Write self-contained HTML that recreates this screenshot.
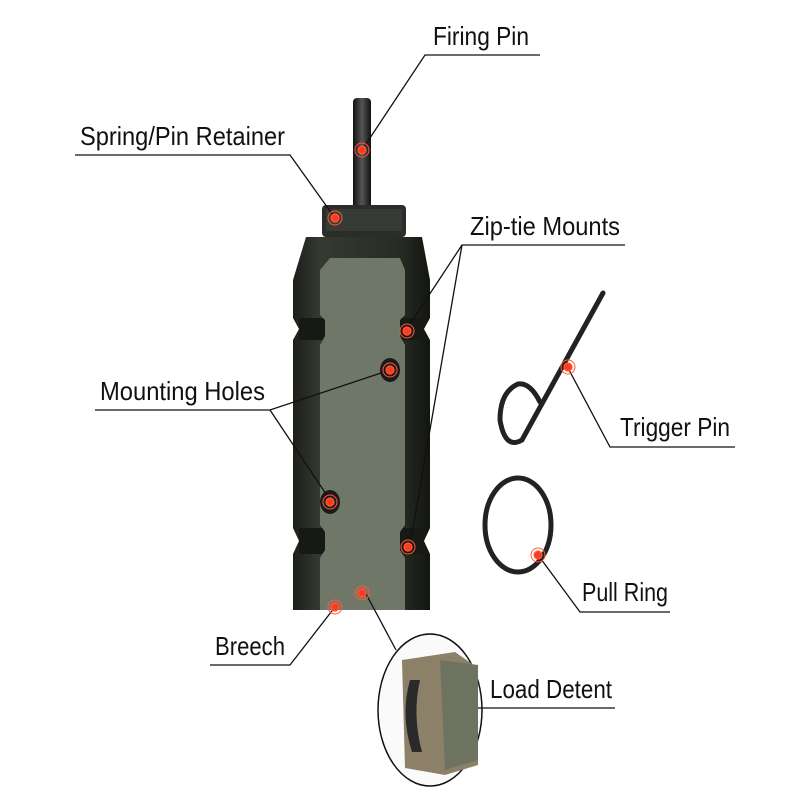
<!DOCTYPE html>
<html><head><style>
body{margin:0;background:#fff;}
svg{display:block}
text{font-family:"Liberation Sans",sans-serif;font-size:26px;fill:#111}
</style></head><body>
<svg width="800" height="800" viewBox="0 0 800 800">
<defs>
<linearGradient id="bd" x1="0" x2="1"><stop offset="0" stop-color="#1c1f1a"/><stop offset="0.2" stop-color="#353a31"/><stop offset="0.8" stop-color="#262a23"/><stop offset="1" stop-color="#131511"/></linearGradient>
<linearGradient id="pin" x1="0" x2="1"><stop offset="0" stop-color="#111"/><stop offset="0.5" stop-color="#555"/><stop offset="1" stop-color="#111"/></linearGradient>
</defs>
<rect x="353" y="98" width="18" height="112" rx="4" fill="url(#pin)"/>
<rect x="322" y="205" width="84" height="32" rx="4" fill="#2b2e28"/>
<rect x="326" y="209" width="76" height="22" fill="#3d423a" opacity="0.7"/>
<path d="M306 237 L422 237 L430 280 L430 318 L424 329 L430 340 L430 528 L424 541 L430 554 L430 610 L293 610 L293 554 L299 541 L293 528 L293 340 L299 329 L293 318 L293 280 Z" fill="url(#bd)"/>
<rect x="299" y="318" width="125" height="22" fill="#171915"/>
<rect x="299" y="528" width="125" height="26" fill="#171915"/>
<path d="M330 258 L400 258 L405 270 L405 315 L400 320 L400 336 L405 345 L405 525 L400 532 L400 550 L405 558 L405 610 L320 610 L320 558 L325 550 L325 532 L320 525 L320 345 L325 336 L325 320 L320 315 L320 270 Z" fill="#6f7768"/>
<ellipse cx="390" cy="370" rx="10" ry="12" fill="#1a1a1a"/>
<ellipse cx="330" cy="502" rx="10" ry="12" fill="#1a1a1a"/>
<path d="M603 293 L522 440 Q505 450 500 420 Q500 392 518 384 Q530 382 540 402" fill="none" stroke="#222" stroke-width="5" stroke-linecap="round"/>
<ellipse cx="518" cy="525" rx="33" ry="47" fill="none" stroke="#222" stroke-width="5"/>
<ellipse cx="430" cy="710" rx="52" ry="76" fill="#fafafa" stroke="#111" stroke-width="1.5"/>
<path d="M402 660 L455 652 L478 668 L478 765 L445 775 L405 768 Z" fill="#8d8069"/>
<path d="M440 660 L478 665 L478 760 L445 770 Z" fill="#6d7360"/>
<path d="M410 680 Q400 715 412 752 L422 752 Q412 715 420 680 Z" fill="#2a2a2a"/>
<g stroke="#111" stroke-width="1.3" fill="none">
<polyline points="540,55 425,55 362,150"/>
<polyline points="75,155 290,155 335,218"/>
<polyline points="625,245 462,245 406,330"/>
<line x1="462" y1="245" x2="410" y2="545"/>
<polyline points="95,410 270,410 390,370"/>
<line x1="270" y1="410" x2="330" y2="500"/>
<polyline points="735,447 610,447 568,368"/>
<polyline points="670,612 580,612 538,555"/>
<polyline points="210,665 290,665 335,607"/>
<polyline points="615,708 478,708"/>
<line x1="365" y1="592" x2="396" y2="650"/>
</g>
<g fill="#ff3b1f" stroke="#ff5a3a" stroke-width="1.2">
<circle cx="362" cy="150" r="4"/><circle cx="335" cy="218" r="4"/>
<circle cx="407" cy="331" r="4"/><circle cx="390" cy="370" r="4"/>
<circle cx="330" cy="502" r="4"/><circle cx="408" cy="547" r="4"/>
<circle cx="335" cy="607" r="4"/><circle cx="362" cy="593" r="4"/>
<circle cx="568" cy="367" r="4"/><circle cx="538" cy="555" r="4"/>
</g>
<g fill="none" stroke="#ff5a3a" stroke-width="1">
<circle cx="362" cy="150" r="7"/><circle cx="335" cy="218" r="7"/>
<circle cx="407" cy="331" r="7"/><circle cx="390" cy="370" r="7"/>
<circle cx="330" cy="502" r="7"/><circle cx="408" cy="547" r="7"/>
<circle cx="335" cy="607" r="7"/><circle cx="362" cy="593" r="7"/>
<circle cx="568" cy="367" r="7"/><circle cx="538" cy="555" r="7"/>
</g>
<text x="433" y="45" textLength="96" lengthAdjust="spacingAndGlyphs">Firing Pin</text>
<text x="80" y="145" textLength="205" lengthAdjust="spacingAndGlyphs">Spring/Pin Retainer</text>
<text x="470" y="235" textLength="150" lengthAdjust="spacingAndGlyphs">Zip-tie Mounts</text>
<text x="100" y="400" textLength="165" lengthAdjust="spacingAndGlyphs">Mounting Holes</text>
<text x="620" y="436" textLength="110" lengthAdjust="spacingAndGlyphs">Trigger Pin</text>
<text x="582" y="601" textLength="86" lengthAdjust="spacingAndGlyphs">Pull Ring</text>
<text x="215" y="655" textLength="70" lengthAdjust="spacingAndGlyphs">Breech</text>
<text x="490" y="698" textLength="122" lengthAdjust="spacingAndGlyphs">Load Detent</text>
</svg>
</body></html>
